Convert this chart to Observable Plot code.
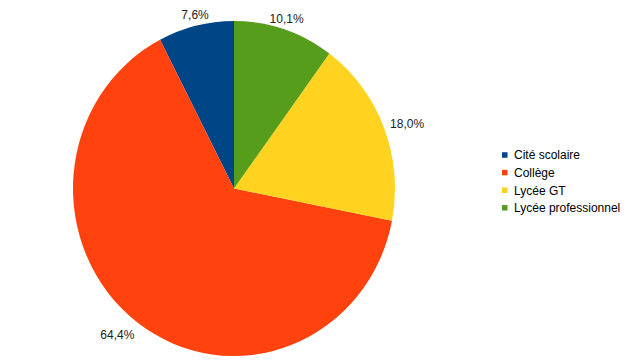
<!DOCTYPE html>
<html><head><meta charset="utf-8">
<script src="https://cdn.jsdelivr.net/npm/d3@7"></script>
<script src="https://cdn.jsdelivr.net/npm/@observablehq/plot@0.6"></script>
<style>body{margin:0;background:#fff;} svg{display:block;}</style>
</head><body><div id="chart"></div>
<script>
const categories = ["Cité scolaire", "Collège", "Lycée GT", "Lycée professionnel"];
const values = [7.6, 64.4, 18.0, 10.1];
const labels = ["7,6%", "64,4%", "18,0%", "10,1%"];
const colors = ["#004586", "#ff420e", "#ffd320", "#579d1c"];

const W = 630, H = 362;
const cx = 234, cy = 188.5, rx = 161, ry = 167.5;
const FONT = "'Liberation Sans', Arial, sans-serif";

const data = categories.map((c, i) => ({cat: c, value: values[i], label: labels[i], idx: i}));
const pie = d3.pie().sort(null).value(d => d.value).startAngle(0).endAngle(-2 * Math.PI);
const arcs = pie(data);

const labelData = arcs.map(a => {
  const m = (a.startAngle + a.endAngle) / 2;
  const s = Math.sin(m), c = Math.cos(m);
  const anchor = s > 0.4 ? "start" : s < -0.4 ? "end" : "middle";
  return {
    label: a.data.label,
    x: cx + (rx + 6) * s,
    y: cy - (ry + 6) * c - c * (c < 0 ? 9 : 5),
    anchor
  };
});

const legendData = categories.map((c, i) => ({cat: c, y: 155 + i * 17.6}));

function pieMark(index, scales) {
  const color = (scales && typeof scales.color === "function") ? scales.color : (c => colors[categories.indexOf(c)]);
  const arc = d3.arc().innerRadius(0).outerRadius(rx);
  const g = d3.create("svg:g")
    .attr("transform", `translate(${cx},${cy}) scale(1,${ry / rx})`);
  g.selectAll("path").data(arcs).join("path")
    .attr("d", arc)
    .attr("fill", d => color(d.data.cat));
  return g.node();
}

const chart = Plot.plot({
  width: W, height: H,
  margin: 0,
  style: {fontFamily: FONT, background: "#fff"},
  x: {domain: [0, W], range: [0, W], axis: null},
  y: {domain: [0, H], range: [0, H], axis: null},
  color: {domain: categories, range: colors},
  marks: [
    pieMark,
    ...["start", "middle", "end"].map(an =>
      Plot.text(labelData.filter(d => d.anchor === an), {
        x: "x", y: "y", text: "label", textAnchor: an,
        fill: "#222", fontSize: 12, fontFamily: FONT
      })),
    Plot.rect(legendData, {
      x1: () => 502, x2: () => 507.5,
      y1: d => d.y - 2.75, y2: d => d.y + 2.75,
      fill: "cat"
    }),
    Plot.text(legendData, {
      x: () => 513.5, y: "y", text: "cat", textAnchor: "start",
      fill: "#000", fontSize: 12, fontFamily: FONT
    })
  ]
});
document.getElementById("chart").appendChild(chart);
</script>
</body></html>
